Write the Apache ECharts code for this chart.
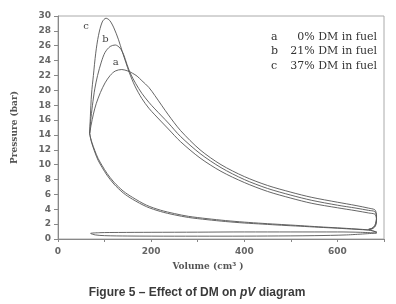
<!DOCTYPE html>
<html>
<head>
<meta charset="utf-8">
<script src="https://cdn.jsdelivr.net/npm/echarts@6/dist/echarts.min.js"></script>
<style>
html, body { margin: 0; padding: 0; background: #fff; }
#chart { width: 396px; height: 304px; }
</style>
</head>
<body>
<div id="chart"></div>
<script>
// compression stroke, BDC -> TDC (two slightly different traces)
const compV = [685, 675, 667, 640, 600, 560, 520, 480, 440, 400, 360, 320, 280, 250, 220, 190, 160, 140, 120, 105, 95, 86, 79, 73, 70, 68];
const compP1 = [0.9, 1.12, 1.22, 1.35, 1.5, 1.64, 1.8, 1.95, 2.1, 2.27, 2.48, 2.74, 3.05, 3.42, 3.88, 4.55, 5.6, 6.45, 7.65, 8.85, 9.85, 10.85, 11.9, 12.95, 13.6, 14.2];
const compP2 = [0.9, 1.1, 1.2, 1.3, 1.45, 1.58, 1.72, 1.85, 2.0, 2.15, 2.35, 2.6, 2.9, 3.25, 3.7, 4.35, 5.35, 6.2, 7.4, 8.6, 9.6, 10.6, 11.7, 12.8, 13.5, 14.2];

// combustion, up to where the curves separate
const headVA = [68, 71, 76, 82, 91, 101, 112, 123, 137, 150, 160, 170];
const headPA = [14.2, 15.3, 16.8, 18.2, 19.7, 21.0, 22.0, 22.6, 22.8, 22.6, 22.3, 21.9];
const headVB = [68, 70, 74, 79, 85, 93, 101, 112, 123, 133, 141, 148, 156, 167];
const headPB = [14.2, 15.8, 18.0, 20.2, 22.0, 23.8, 25.1, 25.9, 26.1, 25.7, 24.8, 23.5, 22.2, 20.9];
const headVC = [68, 69.5, 72, 76, 81, 87, 95, 103, 111, 120, 130, 138, 146, 153, 165];
const headPC = [14.2, 16.5, 19.5, 22.0, 25.0, 27.4, 29.2, 29.7, 29.4, 28.4, 26.8, 25.2, 23.7, 22.4, 20.6];

// expansion stroke
const expV = [180, 195, 208, 237, 263, 305, 350, 400, 450, 500, 545, 600, 640, 667, 680];
const expPA = [21.3, 20.4, 19.3, 16.7, 14.6, 12.0, 10.0, 8.4, 7.2, 6.3, 5.6, 4.95, 4.5, 4.15, 3.95];
const expPB = [19.6, 18.4, 17.5, 15.6, 13.8, 11.5, 9.6, 8.0, 6.8, 5.9, 5.2, 4.55, 4.15, 3.85, 3.7];
const expPC = [18.9, 17.6, 16.7, 14.8, 13.1, 10.9, 9.1, 7.6, 6.4, 5.5, 4.8, 4.2, 3.8, 3.5, 3.35];

// blowdown at BDC
const tailV = [683, 684, 683, 680, 674, 667];
const tailPA = [3.6, 3.1, 2.4, 1.8, 1.45, 1.3];
const tailPB = [3.3, 2.8, 2.2, 1.7, 1.4, 1.3];
const tailPC = [3.0, 2.6, 2.0, 1.6, 1.35, 1.3];

// gas exchange loop
const exhV = [684, 650, 600, 500, 400, 300, 200, 130, 90, 70];
const exhP = [0.8, 0.9, 0.95, 0.95, 0.95, 0.92, 0.9, 0.88, 0.85, 0.75];
const intV = [70, 80, 100, 150, 250, 350, 450, 550, 620, 684];
const intP = [0.75, 0.55, 0.45, 0.4, 0.38, 0.38, 0.4, 0.45, 0.55, 0.8];

const tagNames = ['a', 'b', 'c'];
const tagPos = [[124, 23.7], [102, 26.9], [60, 28.6]];
const legendTexts = ['0% DM in fuel', '21% DM in fuel', '37% DM in fuel'];

function zip(vs, ps) {
    return vs.map(function(v, i) {
        return [v, ps[i]];
    });
}

// burn + expansion + blowdown, one open path per fuel
function burn(headV, headP, expP, tailP) {
    return zip(headV, headP)
        .concat(zip(expV, expP))
        .concat(zip(tailV, tailP));
}

const lineColor = '#555';
const seriesData = [
    zip(compV, compP1),
    zip(compV, compP2),
    burn(headVA, headPA, expPA, tailPA),
    burn(headVB, headPB, expPB, tailPB),
    burn(headVC, headPC, expPC, tailPC),
    zip(exhV, exhP).concat(zip(intV, intP))
];

const chart = echarts.init(document.getElementById('chart'));
chart.setOption({
    animation: false,
    backgroundColor: '#fff',
    grid: {
        left: 58,
        right: 12,
        top: 16,
        bottom: 65,
        show: true,
        borderColor: '#aaa',
        borderWidth: 1
    },
    xAxis: {
        type: 'value',
        min: 0,
        max: 700,
        interval: 100,
        name: 'Volume (cm³ )',
        nameLocation: 'middle',
        nameGap: 23,
        nameTextStyle: {
            fontFamily: 'DejaVu Serif',
            fontWeight: 'bold',
            fontSize: 9,
            color: '#555',
            padding: [0, 26, 0, 0]
        },
        axisLine: {lineStyle: {color: '#888'}},
        axisTick: {length: 3, lineStyle: {color: '#888'}},
        axisLabel: {
            margin: 8,
            fontFamily: 'DejaVu Sans',
            fontWeight: 'bold',
            fontSize: 9,
            color: '#666',
            formatter: function(v) {
                return v % 200 === 0 && v < 700 ? String(v) : '';
            }
        },
        splitLine: {show: false}
    },
    yAxis: {
        type: 'value',
        min: 0,
        max: 30,
        interval: 2,
        name: 'Pressure (bar)',
        nameLocation: 'middle',
        nameGap: 39,
        nameTextStyle: {
            fontFamily: 'DejaVu Serif',
            fontWeight: 'bold',
            fontSize: 9,
            color: '#555'
        },
        axisLine: {lineStyle: {color: '#888'}},
        axisTick: {length: 4, lineStyle: {color: '#888'}},
        axisLabel: {
            margin: 7,
            fontFamily: 'DejaVu Sans',
            fontWeight: 'bold',
            fontSize: 9,
            color: '#666'
        },
        splitLine: {show: false}
    },
    series: seriesData.map(function(d) {
        return {
            type: 'line',
            data: d,
            symbol: 'none',
            smooth: 0.3,
            lineStyle: {color: lineColor, width: 0.9}
        };
    })
});

// curve tags and the text key, placed after the axes exist
let graphics = tagPos.map(function(p, i) {
    const px = chart.convertToPixel({gridIndex: 0}, p);
    return {
        type: 'text',
        x: px[0],
        y: px[1],
        style: {
            text: tagNames[i],
            font: '10px "DejaVu Serif"',
            fill: '#444',
            align: 'center',
            verticalAlign: 'middle'
        }
    };
});
legendTexts.forEach(function(t, i) {
    graphics.push({
        type: 'text',
        x: 271,
        y: 37 + i * 14.5,
        style: {text: tagNames[i], font: '11px "DejaVu Serif"', fill: '#333', verticalAlign: 'middle'}
    });
    graphics.push({
        type: 'text',
        x: 377,
        y: 37 + i * 14.5,
        style: {text: t, font: '11px "DejaVu Serif"', fill: '#333', align: 'right', verticalAlign: 'middle'}
    });
});
graphics.push({
    type: 'text',
    x: 197,
    y: 293,
    style: {
        text: 'Figure 5 – Effect of DM on {i|pV} diagram',
        font: 'bold 12px "Liberation Sans"',
        fill: '#3a3a3a',
        align: 'center',
        verticalAlign: 'middle',
        rich: {
            i: {font: 'italic bold 12px "Liberation Sans"', fill: '#3a3a3a'}
        }
    }
});
chart.setOption({graphic: graphics});
</script>
</body>
</html>
